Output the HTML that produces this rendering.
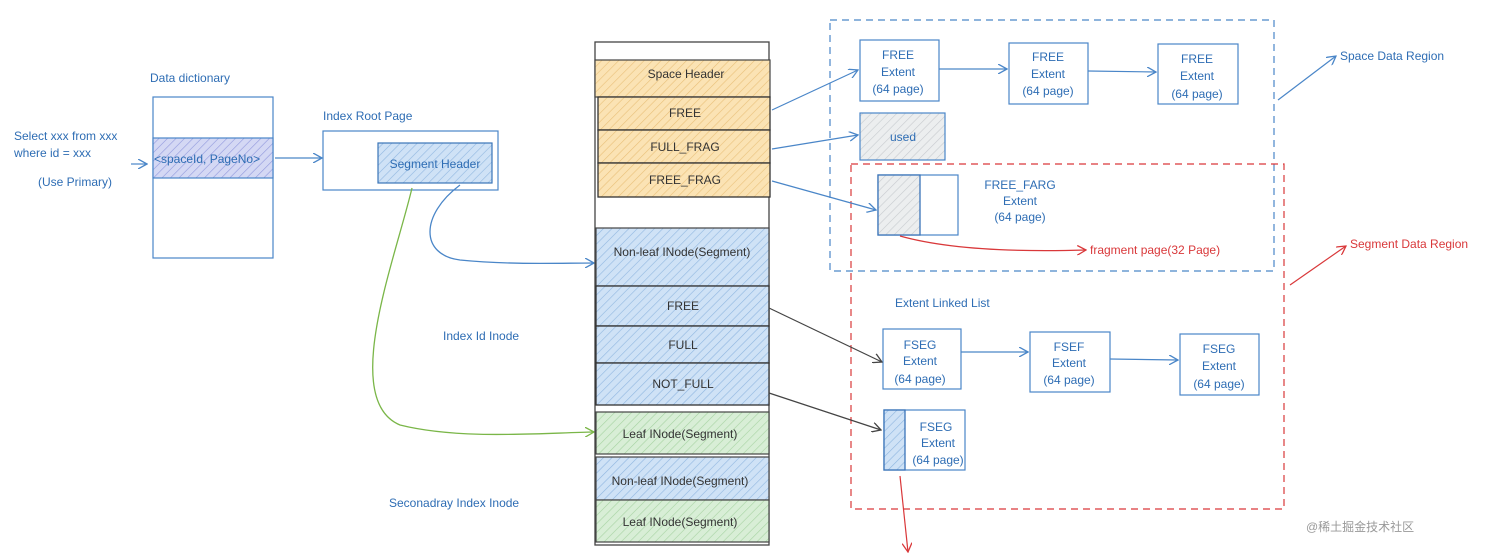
<!DOCTYPE html>
<html><head><meta charset="utf-8"><style>
html,body{margin:0;padding:0;background:#fff;}
svg{display:block}
text{font-family:"Liberation Sans","Noto Sans CJK SC",sans-serif;font-size:12px;}
.b{fill:#2e6db4}.k{fill:#333}.r{fill:#d9383a}
</style></head><body>
<svg width="1512" height="553" viewBox="0 0 1512 553" xmlns="http://www.w3.org/2000/svg">
<defs>
<pattern id="hb" width="6" height="6" patternUnits="userSpaceOnUse" patternTransform="rotate(45)"><rect width="6" height="6" fill="#cfe2f6"/><line x1="0" y1="0" x2="0" y2="6" stroke="#8fb6e0" stroke-width="1.2"/></pattern>
<pattern id="ho" width="6" height="6" patternUnits="userSpaceOnUse" patternTransform="rotate(45)"><rect width="6" height="6" fill="#fbe3b4"/><line x1="0" y1="0" x2="0" y2="6" stroke="#e9c07a" stroke-width="1.2"/></pattern>
<pattern id="hg" width="6" height="6" patternUnits="userSpaceOnUse" patternTransform="rotate(45)"><rect width="6" height="6" fill="#d8eed6"/><line x1="0" y1="0" x2="0" y2="6" stroke="#a6d3a2" stroke-width="1.2"/></pattern>
<pattern id="hp" width="6" height="6" patternUnits="userSpaceOnUse" patternTransform="rotate(45)"><rect width="6" height="6" fill="#d4d8f4"/><line x1="0" y1="0" x2="0" y2="6" stroke="#8f96dc" stroke-width="1.2"/></pattern>
<pattern id="hy" width="6" height="6" patternUnits="userSpaceOnUse" patternTransform="rotate(45)"><rect width="6" height="6" fill="#eceeef"/><line x1="0" y1="0" x2="0" y2="6" stroke="#c8cbcf" stroke-width="1.2"/></pattern>
<marker id="ab" markerWidth="10" markerHeight="10" refX="9" refY="5" orient="auto" markerUnits="userSpaceOnUse"><path d="M0,0 L9,5 L0,10" fill="none" stroke="#4a86c8" stroke-width="1.3"/></marker>
<marker id="ak" markerWidth="10" markerHeight="10" refX="9" refY="5" orient="auto" markerUnits="userSpaceOnUse"><path d="M0,0 L9,5 L0,10" fill="none" stroke="#444" stroke-width="1.3"/></marker>
<marker id="ar" markerWidth="10" markerHeight="10" refX="9" refY="5" orient="auto" markerUnits="userSpaceOnUse"><path d="M0,0 L9,5 L0,10" fill="none" stroke="#d9383a" stroke-width="1.3"/></marker>
<marker id="ag" markerWidth="10" markerHeight="10" refX="9" refY="5" orient="auto" markerUnits="userSpaceOnUse"><path d="M0,0 L9,5 L0,10" fill="none" stroke="#7ab648" stroke-width="1.3"/></marker>
</defs>

<text class="b" x="150" y="82">Data dictionary</text>
<rect x="153" y="97" width="120" height="161" fill="none" stroke="#4a86c8" stroke-width="1.2"/>
<rect x="153" y="138" width="120" height="40" fill="url(#hp)" stroke="#4a86c8" stroke-width="1.2"/>
<text class="b" x="154" y="163" font-size="11">&lt;spaceId, PageNo&gt;</text>
<text class="b" x="14" y="140">Select xxx from xxx</text>
<text class="b" x="14" y="157">where id = xxx</text>
<text class="b" x="38" y="186">(Use Primary)</text>
<line x1="131" y1="164" x2="147" y2="164" stroke="#4a86c8" stroke-width="1.2" marker-end="url(#ab)"/>
<line x1="275" y1="158" x2="322" y2="158" stroke="#4a86c8" stroke-width="1.2" marker-end="url(#ab)"/>
<text class="b" x="323" y="120">Index Root Page</text>
<rect x="323" y="131" width="175" height="59" fill="none" stroke="#4a86c8" stroke-width="1.2"/>
<rect x="378" y="143" width="114" height="40" fill="url(#hb)" stroke="#3a74b8" stroke-width="1.2"/>
<text class="b" x="435" y="168" text-anchor="middle">Segment Header</text>

<path d="M460,185 C420,215 420,255 460,260 C510,265 560,263 594,263" fill="none" stroke="#4a86c8" stroke-width="1.3" marker-end="url(#ab)"/>
<path d="M412,188 C395,260 340,400 400,425 C460,440 540,433 594,432" fill="none" stroke="#7ab648" stroke-width="1.3" marker-end="url(#ag)"/>
<text class="b" x="443" y="340">Index Id Inode</text>
<text class="b" x="389" y="507">Seconadray Index Inode</text>

<rect x="595" y="42" width="174" height="503" fill="none" stroke="#444" stroke-width="1.3"/>
<rect x="595" y="60" width="175" height="37" fill="url(#ho)" stroke="#444" stroke-width="1.2"/>
<rect x="598" y="97" width="172" height="33" fill="url(#ho)" stroke="#333" stroke-width="1.3"/>
<rect x="598" y="130" width="172" height="33" fill="url(#ho)" stroke="#333" stroke-width="1.3"/>
<rect x="598" y="163" width="172" height="34" fill="url(#ho)" stroke="#333" stroke-width="1.3"/>
<text class="k" x="686" y="78" text-anchor="middle">Space Header</text>
<text class="k" x="685" y="117" text-anchor="middle">FREE</text>
<text class="k" x="685" y="151" text-anchor="middle">FULL_FRAG</text>
<text class="k" x="685" y="184" text-anchor="middle">FREE_FRAG</text>
<rect x="596" y="228" width="173" height="58" fill="url(#hb)" stroke="#444" stroke-width="1.2"/>
<rect x="596" y="286" width="173" height="40" fill="url(#hb)" stroke="#333" stroke-width="1.3"/>
<rect x="596" y="326" width="173" height="37" fill="url(#hb)" stroke="#333" stroke-width="1.3"/>
<rect x="596" y="363" width="173" height="42" fill="url(#hb)" stroke="#333" stroke-width="1.3"/>
<rect x="596" y="412" width="173" height="42" fill="url(#hg)" stroke="#444" stroke-width="1.2"/>
<rect x="596" y="457" width="173" height="43" fill="url(#hb)" stroke="#444" stroke-width="1.2"/>
<rect x="596" y="500" width="173" height="42" fill="url(#hg)" stroke="#444" stroke-width="1.2"/>
<text class="k" x="682" y="256" text-anchor="middle" font-size="11">Non-leaf INode(Segment)</text>
<text class="k" x="683" y="310" text-anchor="middle">FREE</text>
<text class="k" x="683" y="349" text-anchor="middle">FULL</text>
<text class="k" x="683" y="388" text-anchor="middle">NOT_FULL</text>
<text class="k" x="680" y="438" text-anchor="middle" font-size="11">Leaf INode(Segment)</text>
<text class="k" x="680" y="485" text-anchor="middle" font-size="11">Non-leaf INode(Segment)</text>
<text class="k" x="680" y="526" text-anchor="middle" font-size="11">Leaf INode(Segment)</text>

<rect x="830" y="20" width="444" height="251" fill="none" stroke="#4a86c8" stroke-width="1.2" stroke-dasharray="7,5"/>
<rect x="851" y="164" width="433" height="345" fill="none" stroke="#d9383a" stroke-width="1.2" stroke-dasharray="7,5"/>

<g fill="none" stroke="#4a86c8" stroke-width="1.2">
<rect x="860" y="40" width="79" height="61"/>
<rect x="1009" y="43" width="79" height="61"/>
<rect x="1158" y="44" width="80" height="60"/>
<rect x="883" y="329" width="78" height="60"/>
<rect x="1030" y="332" width="80" height="60"/>
<rect x="1180" y="334" width="79" height="61"/>
<rect x="884" y="410" width="81" height="60"/>
<rect x="878" y="175" width="80" height="60"/>
</g>
<rect x="860" y="113" width="85" height="47" fill="url(#hy)" stroke="#4a86c8" stroke-width="1.2"/>
<text class="b" x="903" y="141" text-anchor="middle">used</text>
<rect x="878" y="175" width="42" height="60" fill="url(#hy)" stroke="#3a74b8" stroke-width="1.3"/>
<rect x="884" y="410" width="21" height="60" fill="url(#hb)" stroke="#3a74b8" stroke-width="1.3"/>

<g class="b" text-anchor="middle">
<text x="898" y="59">FREE</text><text x="898" y="76">Extent</text><text x="898" y="93">(64 page)</text>
<text x="1048" y="61">FREE</text><text x="1048" y="78">Extent</text><text x="1048" y="95">(64 page)</text>
<text x="1197" y="63">FREE</text><text x="1197" y="80">Extent</text><text x="1197" y="98">(64 page)</text>
<text x="1020" y="189">FREE_FARG</text><text x="1020" y="205">Extent</text><text x="1020" y="221">(64 page)</text>
<text x="920" y="349">FSEG</text><text x="920" y="365">Extent</text><text x="920" y="383">(64 page)</text>
<text x="1069" y="351">FSEF</text><text x="1069" y="367">Extent</text><text x="1069" y="384">(64 page)</text>
<text x="1219" y="353">FSEG</text><text x="1219" y="370">Extent</text><text x="1219" y="388">(64 page)</text>
<text x="936" y="431">FSEG</text><text x="938" y="447">Extent</text><text x="938" y="464">(64 page)</text>
</g>
<text class="b" x="895" y="307">Extent Linked List</text>
<text class="b" x="1340" y="60">Space Data Region</text>
<text class="r" x="1350" y="248">Segment Data Region</text>
<text class="r" x="1090" y="254">fragment page(32 Page)</text>

<g stroke-width="1.2" fill="none">
<line x1="939" y1="69" x2="1007" y2="69" stroke="#4a86c8" marker-end="url(#ab)"/>
<line x1="1088" y1="71" x2="1156" y2="72" stroke="#4a86c8" marker-end="url(#ab)"/>
<line x1="961" y1="352" x2="1028" y2="352" stroke="#4a86c8" marker-end="url(#ab)"/>
<line x1="1110" y1="359" x2="1178" y2="360" stroke="#4a86c8" marker-end="url(#ab)"/>
<line x1="772" y1="110" x2="858" y2="70" stroke="#4a86c8" marker-end="url(#ab)"/>
<line x1="772" y1="149" x2="858" y2="135" stroke="#4a86c8" marker-end="url(#ab)"/>
<line x1="772" y1="181" x2="876" y2="210" stroke="#4a86c8" marker-end="url(#ab)"/>
<line x1="1278" y1="100" x2="1336" y2="56" stroke="#4a86c8" marker-end="url(#ab)"/>
<line x1="769" y1="308" x2="882" y2="362" stroke="#444" marker-end="url(#ak)"/>
<line x1="769" y1="393" x2="881" y2="430" stroke="#444" marker-end="url(#ak)"/>
<line x1="1290" y1="285" x2="1346" y2="246" stroke="#d9383a" marker-end="url(#ar)"/>
<path d="M900,236 C950,250 1020,252 1086,250" stroke="#d9383a" marker-end="url(#ar)"/>
<line x1="900" y1="476" x2="908" y2="552" stroke="#d9383a" marker-end="url(#ar)"/>
</g>
<text x="1306" y="531" fill="#999" font-size="16">@稀土掘金技术社区</text>
</svg>
</body></html>
